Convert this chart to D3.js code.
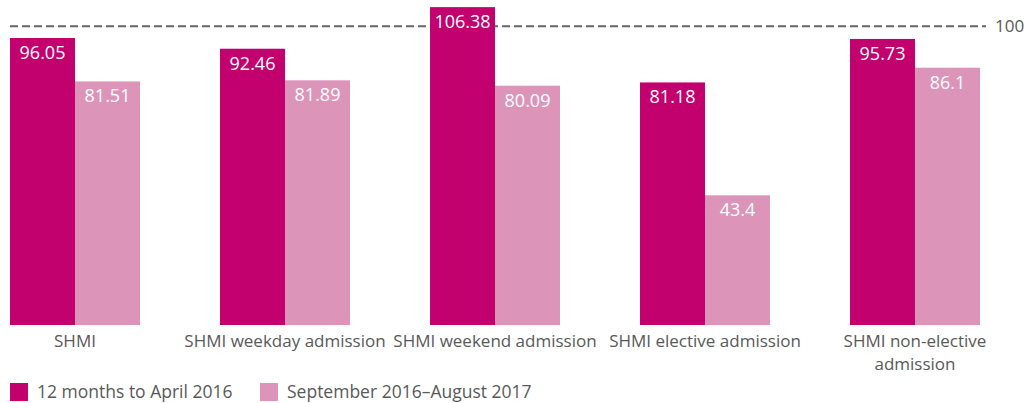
<!DOCTYPE html>
<html>
<head>
<meta charset="utf-8">
<script src="https://cdn.jsdelivr.net/npm/d3@7"></script>
<style>
  body { margin: 0; background: #fff; }
  #canvas { width: 1032px; height: 403px; }
  text { font-family: "Open Sans", "Noto Sans", sans-serif; }
</style>
</head>
<body>
<div id="canvas" class="canvas"></div>
<script>
var categories = ['SHMI', 'SHMI weekday admission', 'SHMI weekend admission', 'SHMI elective admission', 'SHMI non-elective admission'];
var seriesNames = ['12 months to April 2016', 'September 2016\u2013August 2017'];
var period1 = [96.05, 92.46, 106.38, 81.18, 95.73];
var period2 = [81.51, 81.89, 80.09, 43.4, 86.1];
var period1Labels = ['96.05', '92.46', '106.38', '81.18', '95.73'];
var period2Labels = ['81.51', '81.89', '80.09', '43.4', '86.1'];
var refValue = 100;

var colors = ['#c2006e', '#dd94b9'];

var W = 1032, H = 403;
var baseY = 325;

var svg = d3.select('.canvas')
    .append('svg')
    .attr('width', W)
    .attr('height', H);

// groups sit 210px apart, first dark bar starts at x=10
var x = d3.scaleBand()
    .domain(categories)
    .range([-30, 1020]);

var xInner = d3.scaleBand()
    .domain([0, 1])
    .range([40, 170]);

var y = d3.scaleLinear()
    .domain([0, 100])
    .range([baseY, 26.2]);

var rows = categories.map(function(c, i){
  return {cat: c, vals: [
    {s: 0, v: period1[i], lab: period1Labels[i]},
    {s: 1, v: period2[i], lab: period2Labels[i]}
  ]};
});

//reference line
svg.append('line')
    .attr('x1', 10).attr('x2', 986)
    .attr('y1', y(refValue)).attr('y2', y(refValue))
    .style('stroke', '#666')
    .style('stroke-width', 2)
    .style('stroke-dasharray', '8,4');

svg.append('text')
    .attr('x', 995).attr('y', y(refValue) + 6)
    .style('font-size', '17px')
    .style('fill', '#595959')
    .text(refValue);

var groups = svg.selectAll('.group')
    .data(rows)
    .enter()
    .append('g')
    .attr('class', 'group')
    .attr('transform', function(d){ return 'translate(' + x(d.cat) + ',0)'; });

groups.selectAll('rect')
    .data(function(d){ return d.vals; })
    .enter()
    .append('rect')
    .attr('x', function(d){ return xInner(d.s); })
    .attr('width', xInner.bandwidth())
    .attr('y', function(d){ return y(d.v); })
    .attr('height', function(d){ return baseY - y(d.v); })
    .style('fill', function(d){ return colors[d.s]; });

groups.selectAll('.val')
    .data(function(d){ return d.vals; })
    .enter()
    .append('text')
    .attr('class', 'val')
    .attr('x', function(d){ return xInner(d.s) + xInner.bandwidth()/2; })
    .attr('y', function(d){ return y(d.v) + 21; })
    .attr('text-anchor', 'middle')
    .style('font-size', '18px')
    .style('fill', '#fff')
    .text(function(d){ return d.lab; });

//category labels, wrapped like the original
var wrapped = {'SHMI non-elective admission': ['SHMI non-elective', 'admission']};
groups.append('text')
    .attr('class', 'cat')
    .attr('x', 105)
    .attr('y', 347)
    .attr('text-anchor', 'middle')
    .style('font-size', '17px')
    .style('fill', '#595959')
    .selectAll('tspan')
    .data(function(d){ return wrapped[d.cat] || [d.cat]; })
    .enter()
    .append('tspan')
    .attr('x', 105)
    .attr('dy', function(d, i){ return i ? 23 : 0; })
    .text(function(d){ return d; });

//legend
var legend = svg.selectAll('.legend')
    .data(seriesNames)
    .enter()
    .append('g')
    .attr('class', 'legend')
    .attr('transform', function(d, i){ return 'translate(' + (10 + i*250) + ',383)'; });

legend.append('rect')
    .attr('width', 18).attr('height', 18)
    .style('fill', function(d, i){ return colors[i]; });

legend.append('text')
    .attr('x', 27).attr('y', 15)
    .style('font-size', '17.5px')
    .style('fill', '#595959')
    .text(function(d){ return d; });
</script>
</body>
</html>
